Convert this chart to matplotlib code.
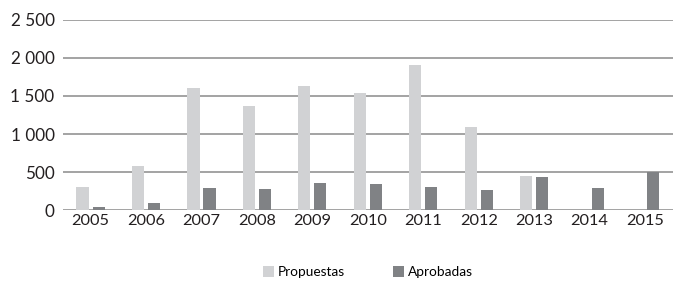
import numpy as np
import matplotlib.pyplot as plt

plt.rcParams['font.family'] = ['Lato', 'DejaVu Sans']

# data
years = ['2005', '2006', '2007', '2008', '2009', '2010', '2011', '2012', '2013', '2014', '2015']
propuestas = [300, 580, 1610, 1365, 1630, 1540, 1905, 1090, 450, 0, 0]
aprobadas = [40, 100, 290, 275, 355, 350, 305, 270, 440, 285, 495]
yticks = [0, 500, 1000, 1500, 2000, 2500]
ytick_labels = ['0', '500', '1 000', '1 500', '2 000', '2 500']

fig = plt.figure(figsize=(6.83, 2.84), dpi=100)
ax = fig.add_axes([0.092, 0.26, 0.893, 0.67])

x = np.arange(len(years))
w = 0.22
ax.bar(x - 0.145, propuestas, w, color='#d1d2d4', label='Propuestas', zorder=3)
ax.bar(x + 0.145, aprobadas, w, color='#808285', label='Aprobadas', zorder=3)

ax.set_xlim(-0.5, len(years) - 0.5)
ax.set_ylim(0, 2500)
ax.set_yticks(yticks)
ax.set_yticklabels(ytick_labels, fontsize=12.3, color='#231f20')
ax.set_xticks(x)
ax.set_xticklabels(years, fontsize=11.8, color='#231f20')
ax.tick_params(length=0, pad=3)
ax.tick_params(axis='y', pad=6)
ax.yaxis.grid(True, color='#8a8a8a', linewidth=1.1, zorder=0)
for s in ax.spines.values():
    s.set_visible(False)

ax.legend(loc='upper center', bbox_to_anchor=(0.5, -0.23), ncol=2, frameon=False,
          fontsize=9.8, handlelength=0.8, handleheight=0.8, handletextpad=0.3,
          columnspacing=3.5)

fig.savefig('out.png', dpi=100)
